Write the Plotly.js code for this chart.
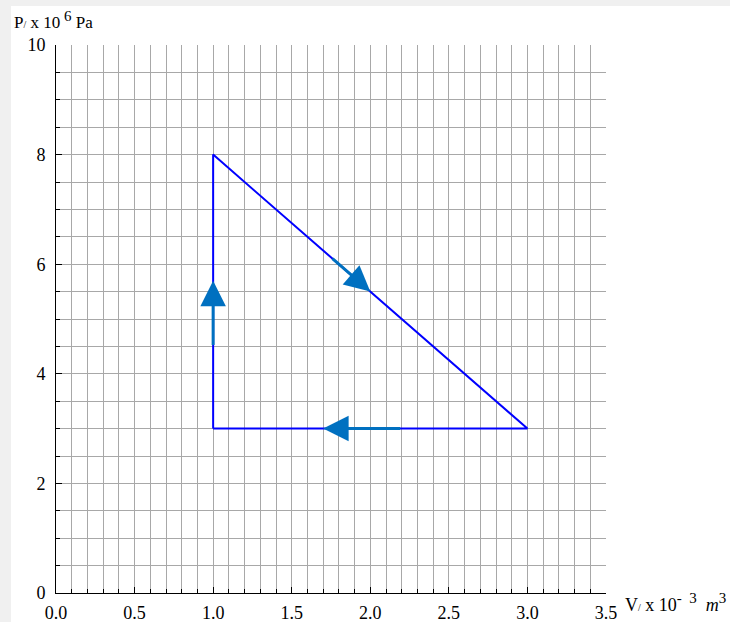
<!DOCTYPE html>
<html>
<head>
<meta charset="utf-8">
<script src="https://cdn.plot.ly/plotly-3.0.1.min.js"></script>
<style>
html,body{margin:0;padding:0;background:#f0f0f0;width:730px;height:622px;overflow:hidden;}
#chart{position:absolute;left:11px;top:6px;width:719px;height:616px;background:#fff;}
</style>
</head>
<body>
<div id="chart"></div>
<script>
// Cycle path (V in 10^-3 m^3, P in 10^6 Pa)
const cycleV = [1, 1, 3, 1];
const cycleP = [3, 8, 3, 3];
// Direction arrows: tails and tips
const arrowTailV = [1.0, 1.75, 2.2];
const arrowTailP = [4.5, 6.125, 3.0];
const arrowTipV = [1.0, 2.0, 1.7];
const arrowTipP = [5.7, 5.5, 3.0];

const xTitle = 'V<span style="font-size:10px">/</span> x 10<sup><span style="font-size:15px">-  3</span></sup>  <i>m</i><sup><span style="font-size:15px">3</span></sup>';
const yTitle = 'P<span style="font-size:10px">/</span> x 10<sup><span style="font-size:15px"> 6</span></sup> Pa';

const serif = 'Liberation Serif';

const annotations = arrowTipV.map((v, i) => ({
  x: v, y: arrowTipP[i], ax: arrowTailV[i], ay: arrowTailP[i],
  xref: 'x', yref: 'y', axref: 'x', ayref: 'y',
  showarrow: true, arrowhead: 2, arrowsize: 1.7, arrowwidth: 3,
  arrowcolor: '#0070c0', standoff: 0, text: ''
}));
annotations.push({
  xref: 'paper', yref: 'paper', x: -0.08, y: 1.045, xanchor: 'left', yanchor: 'middle',
  text: yTitle, showarrow: false, font: {family: serif, size: 17, color: '#000'}
});
annotations.push({
  xref: 'paper', yref: 'paper', x: 1.03, y: -0.018, xanchor: 'left', yanchor: 'middle',
  text: xTitle, showarrow: false, font: {family: serif, size: 18, color: '#000'}
});

const data = [{
  x: cycleV, y: cycleP, type: 'scatter', mode: 'lines',
  line: {color: '#0000ff', width: 2}, hoverinfo: 'skip'
}];

const gridColor = '#a8a8a8';
const tickFont = {family: serif, size: 18, color: '#000'};
const layout = {
  width: 719, height: 616,
  margin: {l: 45, r: 124, t: 39, b: 29},
  paper_bgcolor: '#fff', plot_bgcolor: '#fff',
  showlegend: false,
  font: {family: serif, size: 18, color: '#000'},
  xaxis: {
    range: [0, 3.5], dtick: 0.5, tick0: 0, tickformat: '.1f',
    showgrid: true, gridcolor: gridColor, gridwidth: 1,
    zeroline: false, showline: true, linecolor: '#000', linewidth: 1,
    ticks: 'inside', ticklen: 6, tickcolor: '#000', ticklabelstandoff: 3,
    minor: {dtick: 0.1, tick0: 0, showgrid: true, gridcolor: gridColor, gridwidth: 1,
            ticks: 'inside', ticklen: 4, tickcolor: '#000'},
    tickfont: tickFont, fixedrange: true
  },
  yaxis: {
    range: [0, 10], dtick: 2, tick0: 0,
    showgrid: true, gridcolor: gridColor, gridwidth: 1,
    zeroline: false, showline: true, linecolor: '#000', linewidth: 1,
    ticks: 'inside', ticklen: 6, tickcolor: '#000', ticklabelstandoff: 6,
    minor: {dtick: 0.5, tick0: 0, showgrid: true, gridcolor: gridColor, gridwidth: 1,
            ticks: 'inside', ticklen: 4, tickcolor: '#000'},
    tickfont: tickFont, fixedrange: true
  },
  annotations: annotations
};

Plotly.newPlot('chart', data, layout, {displayModeBar: false, staticPlot: true});
</script>
</body>
</html>
